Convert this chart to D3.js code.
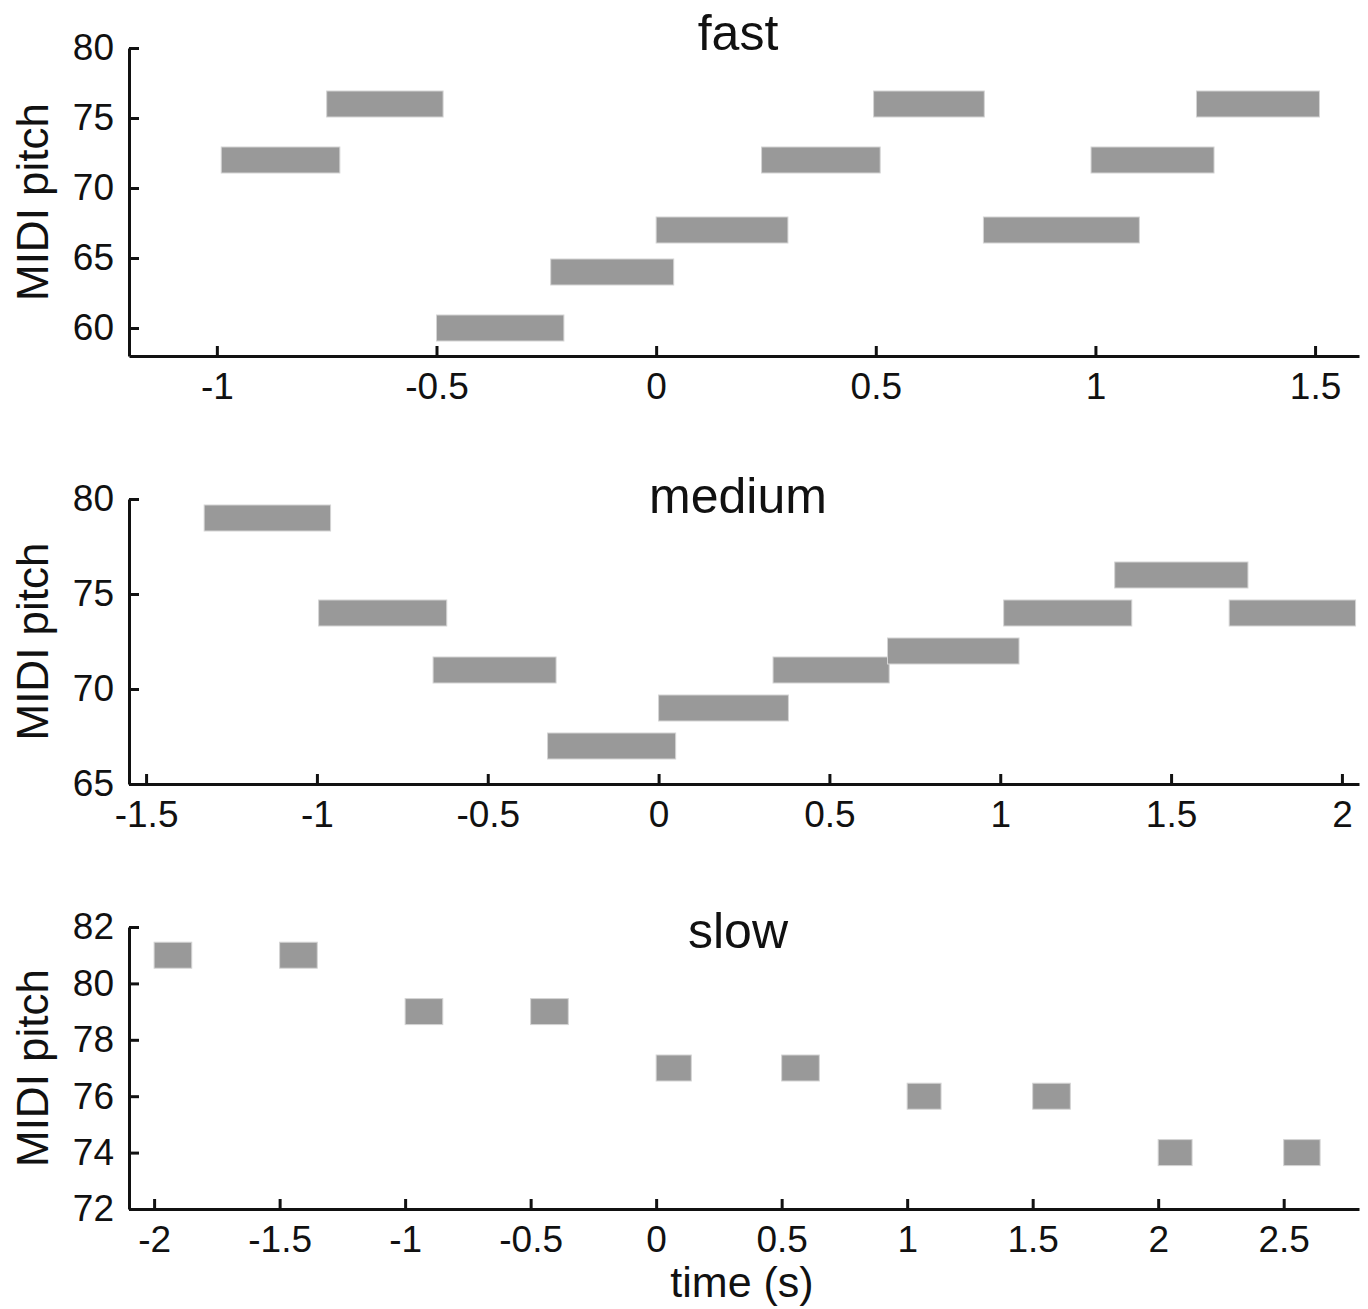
<!DOCTYPE html>
<html>
<head>
<meta charset="utf-8">
<script src="https://cdn.jsdelivr.net/npm/d3@7"></script>
<style>
	body { margin: 0; background: #fff; }
	svg { display: block; font-family: "Liberation Sans", Arial, sans-serif; }
</style>
</head>
<body>
<svg width="1368" height="1309"></svg>
<script>
// note onsets / offsets (s) and MIDI pitches, one set per tempo
var fastOnset = [-0.99, -0.75, -0.50, -0.24, 0.00, 0.24, 0.495, 0.745, 0.99, 1.23];
var fastOffset = [-0.72, -0.485, -0.21, 0.04, 0.30, 0.51, 0.747, 1.10, 1.27, 1.51];
var fastPitch = [72, 76, 60, 64, 67, 72, 76, 67, 72, 76];

var mediumOnset = [-1.33, -0.995, -0.66, -0.325, 0.00, 0.335, 0.67, 1.01, 1.335, 1.67];
var mediumOffset = [-0.96, -0.62, -0.30, 0.05, 0.38, 0.675, 1.055, 1.385, 1.725, 2.04];
var mediumPitch = [79, 74, 71, 67, 69, 71, 72, 74, 76, 74];

var slowOnset = [-2.0, -1.5, -1.0, -0.5, 0.0, 0.5, 1.0, 1.5, 2.0, 2.5];
var slowOffset = [-1.85, -1.35, -0.85, -0.35, 0.14, 0.65, 1.135, 1.65, 2.135, 2.645];
var slowPitch = [81, 81, 79, 79, 77, 77, 76, 76, 74, 74];

// axis ranges and ticks
var fastXTicks = [-1, -0.5, 0, 0.5, 1, 1.5];
var fastYTicks = [60, 65, 70, 75, 80];
var mediumXTicks = [-1.5, -1, -0.5, 0, 0.5, 1, 1.5, 2];
var mediumYTicks = [65, 70, 75, 80];
var slowXTicks = [-2, -1.5, -1, -0.5, 0, 0.5, 1, 1.5, 2, 2.5];
var slowYTicks = [72, 74, 76, 78, 80, 82];

var panels = [
	{ title: "fast", onset: fastOnset, offset: fastOffset, pitch: fastPitch,
		xDomain: [-1.2, 1.6], yDomain: [58, 80], xTicks: fastXTicks, yTicks: fastYTicks,
		top: 48, bottom: 356, titleY: 50 },
	{ title: "medium", onset: mediumOnset, offset: mediumOffset, pitch: mediumPitch,
		xDomain: [-1.55, 2.05], yDomain: [65, 80], xTicks: mediumXTicks, yTicks: mediumYTicks,
		top: 499, bottom: 784, titleY: 513 },
	{ title: "slow", onset: slowOnset, offset: slowOffset, pitch: slowPitch,
		xDomain: [-2.1, 2.8], yDomain: [72, 82], xTicks: slowXTicks, yTicks: slowYTicks,
		top: 927, bottom: 1209, titleY: 948 }
];

var svg = d3.select("svg"),
	left = 129,
	right = 1359,
	barH = 26,
	fmt = function(d) { return String(d); };

svg.append("rect").attr("width", 1368).attr("height", 1309).attr("fill", "#fff");

panels.forEach(function(p) {
	var x = d3.scaleLinear().domain(p.xDomain).range([left, right]);
	var y = d3.scaleLinear().domain(p.yDomain).range([p.bottom, p.top]);

	var g = svg.append("g");

	var notes = d3.range(p.pitch.length).map(function(i) {
		return { t0: p.onset[i], t1: p.offset[i], pitch: p.pitch[i] };
	});

	g.selectAll("rect.note")
		.data(notes)
		.enter().append("rect")
		.attr("class", "note")
		.attr("x", function(d) { return x(d.t0); })
		.attr("width", function(d) { return x(d.t1) - x(d.t0); })
		.attr("y", function(d) { return y(d.pitch) - barH / 2; })
		.attr("height", barH)
		.attr("fill", "#999")
		.attr("stroke", "#d4d4d4")
		.attr("stroke-width", 1);

	var xAxis = g.append("g")
		.attr("transform", "translate(0," + p.bottom + ")")
		.call(d3.axisBottom(x).tickValues(p.xTicks).tickFormat(fmt)
			.tickSize(-10).tickSizeOuter(0).tickPadding(17));

	var yAxis = g.append("g")
		.attr("transform", "translate(" + left + ",0)")
		.call(d3.axisLeft(y).tickValues(p.yTicks).tickFormat(fmt)
			.tickSize(-10).tickSizeOuter(0).tickPadding(15));

	[xAxis, yAxis].forEach(function(a) {
		a.select(".domain").attr("stroke", "#111").attr("stroke-width", 3);
		a.selectAll(".tick line").attr("stroke", "#111").attr("stroke-width", 3);
		a.selectAll(".tick text").attr("fill", "#111").attr("font-size", 37);
	});

	g.append("text")
		.attr("x", 738)
		.attr("y", p.titleY)
		.attr("text-anchor", "middle")
		.attr("font-size", 50)
		.attr("fill", "#111")
		.text(p.title);

	g.append("text")
		.attr("transform", "translate(48," + (p.top + p.bottom) / 2 + ") rotate(-90)")
		.attr("text-anchor", "middle")
		.attr("font-size", 44)
		.attr("fill", "#111")
		.text("MIDI pitch");
});

svg.append("text")
	.attr("x", 742)
	.attr("y", 1297)
	.attr("text-anchor", "middle")
	.attr("font-size", 43)
	.attr("fill", "#111")
	.text("time (s)");
</script>
</body>
</html>
